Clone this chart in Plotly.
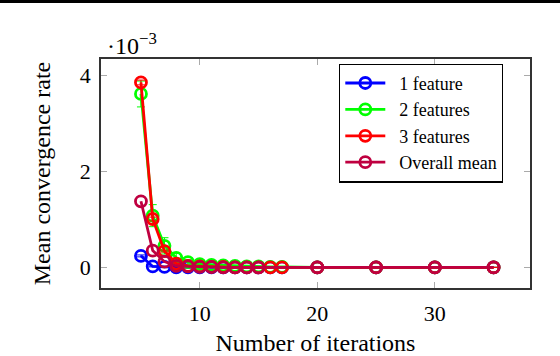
import plotly.graph_objects as go

# iterations
x_main = [5, 6, 7, 8, 9, 10, 11, 12, 13, 14, 15, 16, 17, 20, 25, 30, 35]
x_mean = [5, 6, 7, 8, 9, 10, 11, 12, 13, 14, 15, 20, 25, 30, 35]

# mean convergence rate (x 1e-3)
one_feat = [0.24, 0.02, 0.01, 0.0, 0.0, 0.0, 0.0, 0.0, 0.0, 0.0, 0.0, 0.0, 0.0, 0.0, 0.0, 0.0, 0.0]
two_feat = [3.62, 1.08, 0.45, 0.20, 0.11, 0.07, 0.05, 0.04, 0.03, 0.02, 0.02, 0.01, 0.01, 0.0, 0.0, 0.0, 0.0]
three_feat = [3.86, 1.01, 0.34, 0.08, 0.03, 0.02, 0.01, 0.01, 0.0, 0.0, 0.0, 0.0, 0.0, 0.0, 0.0, 0.0, 0.0]
overall = [1.38, 0.35, 0.12, 0.03, 0.02, 0.01, 0.01, 0.0, 0.0, 0.0, 0.0, 0.0, 0.0, 0.0, 0.0]

one_err = [0.02, 0.01, 0.0, 0.0, 0.0, 0.0, 0.0, 0.0, 0.0, 0.0, 0.0, 0.0, 0.0, 0.0, 0.0, 0.0, 0.0]
two_err = [0.27, 0.23, 0.17, 0.10, 0.05, 0.03, 0.02, 0.01, 0.01, 0.0, 0.0, 0.0, 0.0, 0.0, 0.0, 0.0, 0.0]
three_err = [0.05, 0.04, 0.02, 0.01, 0.0, 0.0, 0.0, 0.0, 0.0, 0.0, 0.0, 0.0, 0.0, 0.0, 0.0, 0.0, 0.0]

font = "Liberation Serif, Times New Roman, serif"
pad = "\u00a0\u00a0"  # pgfplots legend leaves a bit more room after the sample line

series = [
    ("1 feature", x_main, one_feat, one_err, "#0000ff"),
    ("2 features", x_main, two_feat, two_err, "#00ff00"),
    ("3 features", x_main, three_feat, three_err, "#ff0000"),
    ("Overall mean", x_mean, overall, None, "#bf0040"),
]

fig = go.Figure()
for name, xs, ys, err, col in series:
    fig.add_trace(go.Scatter(
        x=xs, y=ys, name=pad + name, mode="lines+markers",
        line=dict(color=col, width=2.8),
        marker=dict(symbol="circle-open", size=11, color=col, line=dict(width=2.8, color=col)),
        error_y=dict(type="data", array=err, color=col, thickness=1, width=4, visible=err is not None),
    ))

fig.update_layout(
    width=560, height=356,
    margin=dict(l=101, r=30, t=59, b=68),
    plot_bgcolor="white", paper_bgcolor="white",
    font=dict(family=font, color="black", size=22),
    showlegend=True,
    legend=dict(
        x=0.555, y=0.98, xanchor="left", yanchor="top",
        bgcolor="white", bordercolor="black", borderwidth=1.2,
        font=dict(family=font, size=18), tracegroupgap=0,
        itemwidth=40,
    ),
    xaxis=dict(
        range=[1.6, 38.1], tickvals=[10, 20, 30], showgrid=False, zeroline=False,
        showline=True, linecolor="#333", linewidth=1.5, mirror="allticks",
        ticks="inside", ticklen=6, tickcolor="#aaa", ticklabelstandoff=5,
        title=dict(text="Number of iterations", font=dict(size=24), standoff=9),
        tickfont=dict(size=22), automargin=False,
    ),
    yaxis=dict(
        range=[-0.43, 4.35], tickvals=[0, 2, 4], showgrid=False, zeroline=False,
        showline=True, linecolor="#333", linewidth=1.5, mirror="allticks",
        ticks="inside", ticklen=6, tickcolor="#aaa", ticklabelstandoff=4,
        title=dict(text="Mean convergence rate", font=dict(size=24), standoff=22),
        tickfont=dict(size=22), automargin=False,
    ),
    annotations=[dict(
        text="·10<sup>−3</sup>", xref="paper", yref="paper", x=0.01, y=0.99,
        xanchor="left", yanchor="bottom", showarrow=False, font=dict(size=24, family=font),
    )],
    shapes=[dict(
        type="rect", xref="paper", yref="paper", x0=-0.5, x1=1.5,
        y0=1 + 56 / 229, y1=1 + 60 / 229, fillcolor="black", line=dict(width=0),
    )],
)

fig.write_html("out.html", config={"displayModeBar": False},
               post_script="document.body.style.margin='0px';")
